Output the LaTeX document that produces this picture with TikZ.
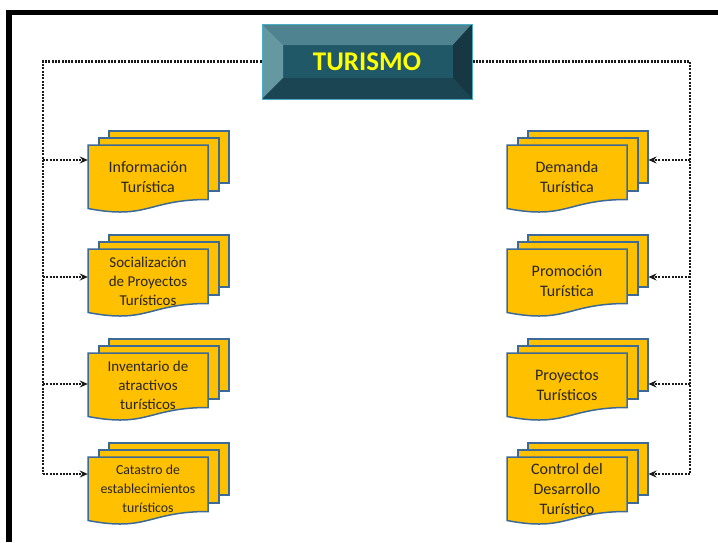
\documentclass[tikz,border=0pt]{standalone}
\usepackage{fontspec}
\setmainfont{Carlito}
\usetikzlibrary{arrows.meta}
\definecolor{gold}{HTML}{FFC000}
\definecolor{docline}{HTML}{3C6A98}
\definecolor{txt}{HTML}{262626}
\definecolor{dotc}{HTML}{1A1A1A}
\definecolor{bvtop}{HTML}{4F8390}
\definecolor{bvleft}{HTML}{6698A2}
\definecolor{bvright}{HTML}{173843}
\definecolor{bvbottom}{HTML}{1C4553}
\definecolor{bvcenter}{HTML}{215868}
\definecolor{bvborder}{HTML}{4BACC6}
\tikzset{
  page/.style={draw=docline, fill=gold, line width=1.5pt},
  doctext/.style={inner sep=0pt, minimum width=120pt, align=center, text=txt},
  dots/.style={draw=dotc, line width=2.4pt, dash pattern=on 2pt off 1.3pt},
  tipped/.style={-{Stealth[length=8pt,width=7pt]}}
}
% #1 name, #2 x of front page, #3 top of front page, #4 font, #5 text
\newcommand\docstack[5]{%
  \node[page, minimum width=120pt, minimum height=52pt, anchor=north west, inner sep=0pt] (#1b) at (#2+20,#3-15) {};
  \node[page, minimum width=120pt, minimum height=53pt, anchor=north west, inner sep=0pt] (#1m) at (#2+10,#3-8) {};
  \path[page] (#2,#3) -- (#2+120,#3) -- (#2+120,#3+54.5)
     .. controls (#2+60,#3+54.5) and (#2+60,#3+75) .. (#2,#3+63.5) -- cycle;
  \node[doctext, font=#4] (#1) at (#2+60,#3+32) {#5};
}
\newcommand\fa{\fontsize{16}{20}\selectfont}
\newcommand\fb{\fontsize{15}{19}\selectfont}
\newcommand\fc{\fontsize{13.8}{19}\selectfont}
\begin{document}
\begin{tikzpicture}[x=1pt,y=-1pt]
\useasboundingbox (0,0) rectangle (718,542);
\fill[white] (0,0) rectangle (718,542);
% frame
\fill[black] (6,10) rectangle (718,15);
\fill[black] (6,10) rectangle (12,542);

% title bevel box
\fill[bvcenter] (262,24) rectangle (472,99);
\fill[bvtop] (262,24) -- (472,24) -- (453,45) -- (283,45) -- cycle;
\fill[bvleft] (262,24) -- (283,45) -- (283,78) -- (262,99) -- cycle;
\fill[bvright] (472,24) -- (453,45) -- (453,78) -- (472,99) -- cycle;
\fill[bvbottom] (262,99) -- (283,78) -- (453,78) -- (472,99) -- cycle;
\node[draw=bvborder, line width=1pt, minimum width=210pt, minimum height=75pt, inner sep=0pt,
      text={rgb,255:red,255;green,255;blue,0}, font=\bfseries\fontsize{27}{32}\selectfont] (tur) at (367,61.5) {TURISMO};

% left stacks
\docstack{l1}{88}{145}{\fa}{Información\\Turística}
\docstack{l2}{88}{249}{\fb}{Socialización\\de Proyectos\\Turísticos}
\docstack{l3}{88}{353}{\fb}{Inventario de\\atractivos\\turísticos}
\docstack{l4}{88}{457}{\fc}{Catastro de\\establecimientos\\turísticos}
% right stacks
\docstack{r1}{507}{145}{\fa}{Demanda\\Turística}
\docstack{r2}{507}{249}{\fa}{Promoción\\Turística}
\docstack{r3}{507}{353}{\fa}{Proyectos\\Turísticos}
\docstack{r4}{507}{457}{\fa}{Control del\\Desarrollo\\Turístico}

% junction coordinates
\coordinate (j1) at (43,160);
\coordinate (j2) at (43,277);
\coordinate (j3) at (43,384);
\coordinate (j4) at (43,474);
\coordinate (k1) at (690,160);
\coordinate (k2) at (690,277);
\coordinate (k3) at (690,384);
\coordinate (k4) at (690,474);

% connectors
\draw[dots] (tur.west) -| (j4);
\draw[dots] (tur.east) -| (k4);
\foreach \i in {1,2,3,4}{
  \draw[dots,tipped] (j\i) -- (j\i -| l\i.west);
  \draw[dots,tipped] (k\i) -- (k\i -| r\i b.east);
}
\end{tikzpicture}
\end{document}
